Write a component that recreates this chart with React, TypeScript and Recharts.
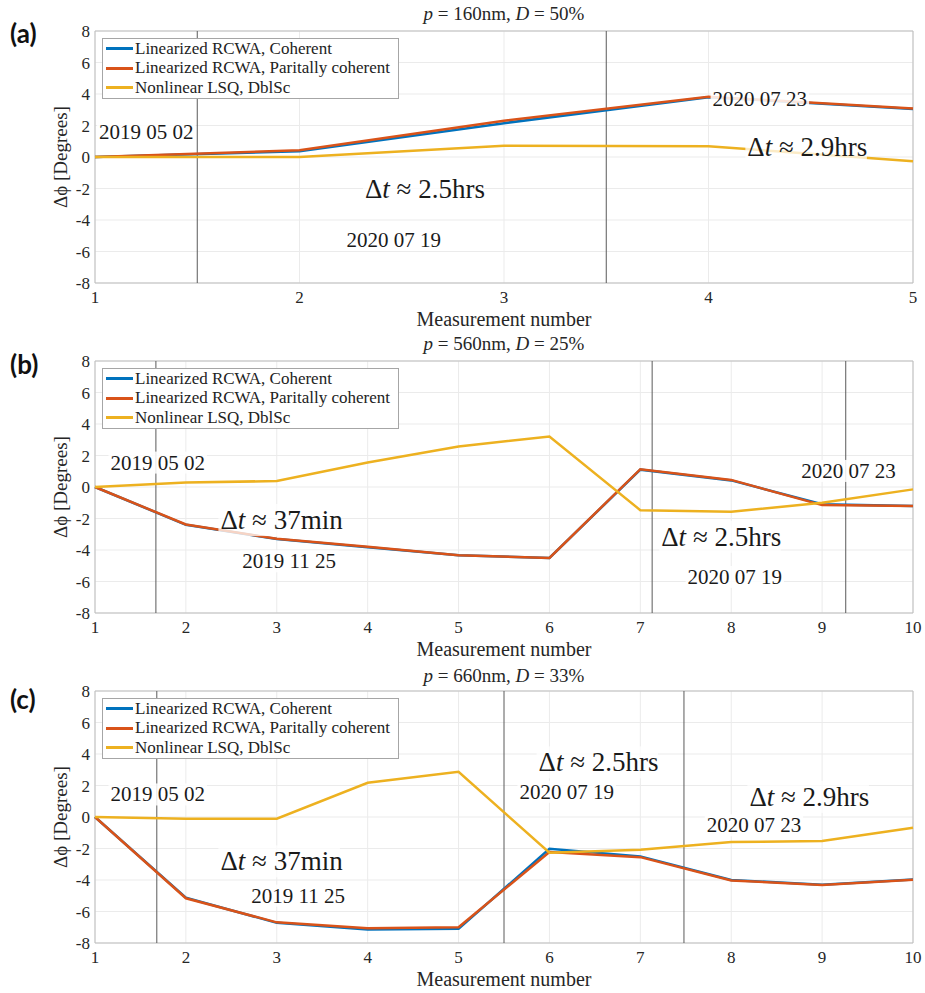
import React from "react";
import {
  LineChart,
  Line,
  XAxis,
  YAxis,
  CartesianGrid,
  ReferenceLine,
  ReferenceArea,
  ReferenceDot,
  Label,
} from "recharts";

const seriesNames = [
  "Linearized RCWA, Coherent",
  "Linearized RCWA, Paritally coherent",
  "Nonlinear LSQ, DblSc",
];
const seriesColors = ["#0072BD", "#D95319", "#EDB120"];

const yTicks = [-8, -6, -4, -2, 0, 2, 4, 6, 8];

// (a) p = 160nm
const measA = [1, 2, 3, 4, 5];
const cohA = [0, 0.36, 2.15, 3.8, 3.05];
const parA = [0, 0.43, 2.3, 3.83, 3.08];
const lsqA = [0, 0, 0.72, 0.68, -0.27];
const markersA = [1.5, 3.5];

// (b) p = 560nm
const measB = [1, 2, 3, 4, 5, 6, 7, 8, 9, 10];
const cohB = [0, -2.4, -3.3, -3.82, -4.33, -4.5, 1.1, 0.42, -1.1, -1.2];
const parB = [0, -2.38, -3.29, -3.8, -4.33, -4.5, 1.13, 0.45, -1.15, -1.21];
const lsqB = [0, 0.28, 0.38, 1.55, 2.57, 3.21, -1.47, -1.57, -1.0, -0.15];
const markersB = [1.67, 7.13, 9.26];

// (c) p = 660nm
const measC = [1, 2, 3, 4, 5, 6, 7, 8, 9, 10];
const cohC = [0, -5.12, -6.72, -7.15, -7.1, -2.02, -2.5, -4.0, -4.3, -3.97];
const parC = [0, -5.16, -6.69, -7.07, -7.0, -2.23, -2.55, -4.03, -4.31, -3.99];
const lsqC = [0, -0.11, -0.11, 2.17, 2.87, -2.27, -2.08, -1.59, -1.53, -0.68];
const markersC = [1.68, 5.5, 7.48];

const notesA = [
  { x: 1.02, y: 1.57, text: "2019 05 02", kind: "date" },
  { x: 2.32, y: -2.0, text: "2.5hrs", kind: "dt" },
  { x: 2.23, y: -5.25, text: "2020 07 19", kind: "date" },
  { x: 4.02, y: 3.67, text: "2020 07 23", kind: "date" },
  { x: 4.19, y: 0.64, text: "2.9hrs", kind: "dt" },
];
const notesB = [
  { x: 1.17, y: 1.55, text: "2019 05 02", kind: "date" },
  { x: 2.38, y: -2.1, text: "37min", kind: "dt" },
  { x: 2.62, y: -4.72, text: "2019 11 25", kind: "date" },
  { x: 7.23, y: -3.16, text: "2.5hrs", kind: "dt" },
  { x: 7.52, y: -5.71, text: "2020 07 19", kind: "date" },
  { x: 8.77, y: 1.02, text: "2020 07 23", kind: "date" },
];
const notesC = [
  { x: 1.17, y: 1.43, text: "2019 05 02", kind: "date" },
  { x: 2.38, y: -2.82, text: "37min", kind: "dt" },
  { x: 2.72, y: -4.99, text: "2019 11 25", kind: "date" },
  { x: 5.88, y: 3.47, text: "2.5hrs", kind: "dt" },
  { x: 5.67, y: 1.6, text: "2020 07 19", kind: "date" },
  { x: 8.2, y: 1.28, text: "2.9hrs", kind: "dt" },
  { x: 7.73, y: -0.53, text: "2020 07 23", kind: "date" },
];

const SERIF = "'Liberation Serif', 'Times New Roman', serif";

function buildRows(meas: number[], coh: number[], par: number[], lsq: number[]) {
  return meas.map((n, i) => ({ n, coh: coh[i], par: par[i], lsq: lsq[i] }));
}

function NoteLabel(props: any) {
  const { viewBox, text, kind } = props;
  const x = viewBox.x;
  const y = viewBox.y;
  if (kind === "dt") {
    const fs = 27;
    const w = 4.5 * fs;
    return (
      <g>
        <rect x={x - 2} y={y - 16} width={w} height={32} fill="#fff" fillOpacity={0.75} />
        <text x={x} y={y} dominantBaseline="central" fontFamily={SERIF} fontSize={fs} fill="#1a1a1a">
          <tspan>Δ</tspan>
          <tspan fontStyle="italic">t</tspan>
          <tspan> ≈ {text}</tspan>
        </text>
      </g>
    );
  }
  const fs = 21;
  return (
    <g>
      <rect x={x - 2} y={y - 11} width={4.5 * fs + 4} height={22} fill="#fff" fillOpacity={0.85} />
      <text x={x} y={y} dominantBaseline="central" fontFamily={SERIF} fontSize={fs} fill="#1a1a1a">
        {text}
      </text>
    </g>
  );
}

function LegendBox() {
  return (
    <div
      style={{
        position: "absolute",
        left: 102,
        top: 38,
        width: 295,
        height: 59,
        border: "1px solid #a6a6a6",
        background: "#fff",
        fontFamily: SERIF,
        fontSize: 17,
        color: "#222",
        paddingTop: 0,
        whiteSpace: "nowrap",
      }}
    >
      {seriesNames.map((name, i) => (
        <div key={name} style={{ display: "flex", alignItems: "center", height: 19.5 }}>
          <div style={{ width: 27, height: 3, background: seriesColors[i], marginLeft: 3, marginRight: 2 }} />
          <span>{name}</span>
        </div>
      ))}
    </div>
  );
}

interface PanelProps {
  top: number;
  height: number;
  letter: string;
  letterTop: number;
  titleTop: number;
  pitch: string;
  duty: string;
  rows: any[];
  xTicks: number[];
  markers: number[];
  notes: { x: number; y: number; text: string; kind: string }[];
}

function Panel({ top, height, letter, letterTop, titleTop, pitch, duty, rows, xTicks, markers, notes }: PanelProps) {
  const xMax = xTicks[xTicks.length - 1];
  return (
    <div style={{ position: "absolute", left: 0, top, width: 925, height }}>
      <LineChart
        width={925}
        height={height}
        data={rows}
        margin={{ top: 31, right: 12, bottom: height - 283 - 20, left: 50 }}
      >
        <CartesianGrid stroke="#ebebeb" />
        <XAxis
          dataKey="n"
          type="number"
          domain={[1, xMax]}
          ticks={xTicks}
          interval={0}
          height={20}
          axisLine={false}
          tickLine={false}
          tickSize={0}
          tickMargin={8}
          tick={{ fontFamily: SERIF, fontSize: 17, fill: "#262626" }}
        >
          <Label
            value="Measurement number"
            position="bottom"
            offset={9}
            style={{ fontFamily: SERIF, fontSize: 20, fill: "#262626" }}
          />
        </XAxis>
        <YAxis
          type="number"
          domain={[-8, 8]}
          ticks={yTicks}
          interval={0}
          width={45}
          axisLine={false}
          tickLine={false}
          tickSize={0}
          tickMargin={5}
          tick={{ fontFamily: SERIF, fontSize: 17, fill: "#262626" }}
        >
          <Label
            value="Δϕ [Degrees]"
            angle={-90}
            position="insideLeft"
            offset={10}
            style={{ fontFamily: SERIF, fontSize: 19, fill: "#262626", textAnchor: "middle" }}
          />
        </YAxis>
        <ReferenceArea x1={1} x2={xMax} y1={-8} y2={8} fill="none" fillOpacity={0} stroke="#bdbdbd" strokeWidth={1} />
        {markers.map((m) => (
          <ReferenceLine key={m} x={m} stroke="#5a5a5a" strokeWidth={1} />
        ))}
        <Line type="linear" dataKey="coh" stroke={seriesColors[0]} strokeWidth={2.5} dot={false} isAnimationActive={false} />
        <Line type="linear" dataKey="par" stroke={seriesColors[1]} strokeWidth={2.5} dot={false} isAnimationActive={false} />
        <Line type="linear" dataKey="lsq" stroke={seriesColors[2]} strokeWidth={2.5} dot={false} isAnimationActive={false} />
        {notes.map((note) => (
          <ReferenceDot
            key={note.text + note.x}
            x={note.x}
            y={note.y}
            r={0}
            fill="none"
            stroke="none"
            label={<NoteLabel text={note.text} kind={note.kind} />}
          />
        ))}
      </LineChart>
      <div
        style={{
          position: "absolute",
          left: 95,
          width: 818,
          top: titleTop,
          lineHeight: "20px",
          textAlign: "center",
          fontFamily: SERIF,
          fontSize: 19,
          color: "#262626",
        }}
      >
        <i>p</i> = {pitch}, <i>D</i> = {duty}
      </div>
      <div
        style={{
          position: "absolute",
          left: 10,
          top: letterTop,
          lineHeight: "30px",
          fontFamily: "Lato, 'Open Sans', sans-serif",
          fontWeight: 700,
          fontSize: 26,
          color: "#111",
        }}
      >
        {letter}
      </div>
      <LegendBox />
    </div>
  );
}

export default function App() {
  return (
    <div style={{ position: "absolute", left: 0, top: 0, width: 925, height: 993, background: "#fff" }}>
      <Panel
        top={0}
        height={330}
        letter="(a)"
        letterTop={18}
        titleTop={4}
        pitch="160nm"
        duty="50%"
        rows={buildRows(measA, cohA, parA, lsqA)}
        xTicks={measA}
        markers={markersA}
        notes={notesA}
      />
      <Panel
        top={330}
        height={330}
        letter="(b)"
        letterTop={19}
        titleTop={4}
        pitch="560nm"
        duty="25%"
        rows={buildRows(measB, cohB, parB, lsqB)}
        xTicks={measB}
        markers={markersB}
        notes={notesB}
      />
      <Panel
        top={660}
        height={333}
        letter="(c)"
        letterTop={24}
        titleTop={6}
        pitch="660nm"
        duty="33%"
        rows={buildRows(measC, cohC, parC, lsqC)}
        xTicks={measC}
        markers={markersC}
        notes={notesC}
      />
    </div>
  );
}
